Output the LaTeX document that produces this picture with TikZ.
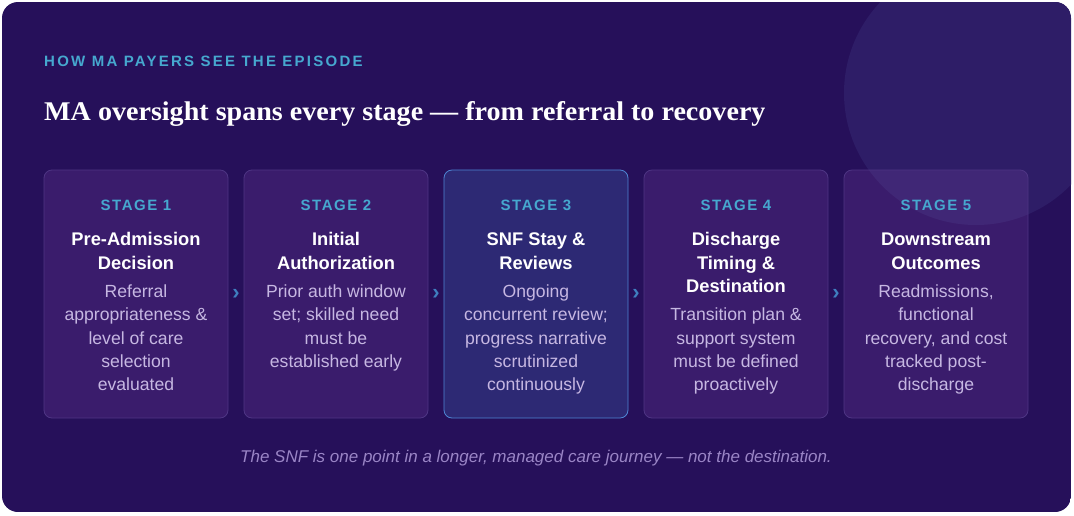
\documentclass[tikz,border=0pt]{standalone}
\usepackage{fontspec}
\setmainfont{Liberation Serif}
\setsansfont{Liberation Sans}
\usepackage{tikz}
\usetikzlibrary{positioning,calc}
\usepackage{xcolor}
\definecolor{NightPurple}{HTML}{26105A}
\definecolor{GlowPurple}{HTML}{2E1D67}
\definecolor{CardTint}{HTML}{8C50B4}
\definecolor{CardLine}{HTML}{4E3584}
\definecolor{FocusTint}{HTML}{4A82D2}
\definecolor{FocusLine}{HTML}{4E86D4}
\definecolor{StageTeal}{HTML}{46A8CF}
\definecolor{DescLavender}{HTML}{C6B7E2}
\definecolor{NoteLavender}{HTML}{9A85C6}
\definecolor{ChevBlue}{HTML}{3F7FBF}

\begin{document}
\begin{tikzpicture}[x=1pt, y=-1pt,
    stagebox/.style={draw=CardLine, line width=0.8pt, fill=CardTint, fill opacity=0.2, rounded corners=8pt, minimum width=184pt, minimum height=248pt, inner sep=0pt},
    focusbox/.style={stagebox, draw=FocusLine, fill=FocusTint, fill opacity=0.22},
    stagelabel/.style={font=\sffamily\bfseries\fontsize{15}{18}\selectfont\addfontfeatures{LetterSpace=10}, text=StageTeal, anchor=base, inner sep=0pt},
    heading/.style={font=\sffamily\bfseries\fontsize{18.3}{23.5}\selectfont, text=white, align=center, anchor=base, inner sep=0pt},
    desc/.style={font=\sffamily\fontsize{17.6}{23.2}\selectfont, text=DescLavender, align=center, anchor=base, inner sep=0pt},
    chev/.style={font=\sffamily\bfseries\fontsize{22}{24}\selectfont, text=ChevBlue, inner sep=0pt}
  ]
    \useasboundingbox (0,0) rectangle (1074,515);
    \fill[white] (0,0) rectangle (1074,515);

    % Panel background
    \begin{scope}
      \clip[rounded corners=16pt] (2,2) rectangle (1071,512);
      \fill[NightPurple] (2,2) rectangle (1071,512);
      \fill[GlowPurple] (976,93) circle (132);
    \end{scope}

    % Header
    \node[font=\sffamily\bfseries\fontsize{15}{18}\selectfont\addfontfeatures{LetterSpace=15}, text=StageTeal, anchor=base west, inner sep=0pt] (kicker) at (44,66.7) {HOW MA PAYERS SEE THE EPISODE};
    \node[font=\rmfamily\bfseries\fontsize{27}{30}\selectfont\addfontfeatures{FakeStretch=1.04}, text=white, anchor=base west, inner sep=0pt] (title) at (44,120) {MA oversight spans every stage — from referral to recovery};

    % Stage 1 (multi-line nodes sit on their last baseline)
    \node[stagebox] (s1) at (136,294) {};
    \node[stagelabel] (l1) at (136,210.7) {STAGE 1};
    \node[heading] (h1) at (136,269) {Pre-Admission\\Decision};
    \node[desc] (d1) at (136,390.5) {Referral\\appropriateness \&\\level of care\\selection\\evaluated};

    % Stage 2
    \node[stagebox] (s2) at (336,294) {};
    \node[stagelabel] (l2) at (336,210.7) {STAGE 2};
    \node[heading] (h2) at (336,269) {Initial\\Authorization};
    \node[desc] (d2) at (336,367.3) {Prior auth window\\set; skilled need\\must be\\established early};

    % Stage 3
    \node[focusbox] (s3) at (536,294) {};
    \node[stagelabel] (l3) at (536,210.7) {STAGE 3};
    \node[heading] (h3) at (536,269) {SNF Stay \&\\Reviews};
    \node[desc] (d3) at (536,390.5) {Ongoing\\concurrent review;\\progress narrative\\scrutinized\\continuously};

    % Stage 4
    \node[stagebox] (s4) at (736,294) {};
    \node[stagelabel] (l4) at (736,210.7) {STAGE 4};
    \node[heading] (h4) at (736,292.5) {Discharge\\Timing \&\\Destination};
    \node[desc] (d4) at (736,390.5) {Transition plan \&\\support system\\must be defined\\proactively};

    % Stage 5
    \node[stagebox] (s5) at (936,294) {};
    \node[stagelabel] (l5) at (936,210.7) {STAGE 5};
    \node[heading] (h5) at (936,269) {Downstream\\Outcomes};
    \node[desc] (d5) at (936,390.5) {Readmissions,\\functional\\recovery, and cost\\tracked post-\\discharge};

    % Chevrons between stages
    \node[chev] (c12) at ($(s1.east)!0.5!(s2.west)$) {›};
    \node[chev] (c23) at ($(s2.east)!0.5!(s3.west)$) {›};
    \node[chev] (c34) at ($(s3.east)!0.5!(s4.west)$) {›};
    \node[chev] (c45) at ($(s4.east)!0.5!(s5.west)$) {›};

    % Footnote
    \node[font=\sffamily\itshape\fontsize{17}{20}\selectfont, text=NoteLavender, anchor=base, inner sep=0pt] (note) at (536,462.5) {The SNF is one point in a longer, managed care journey — not the destination.};

  \end{tikzpicture}
\end{document}
